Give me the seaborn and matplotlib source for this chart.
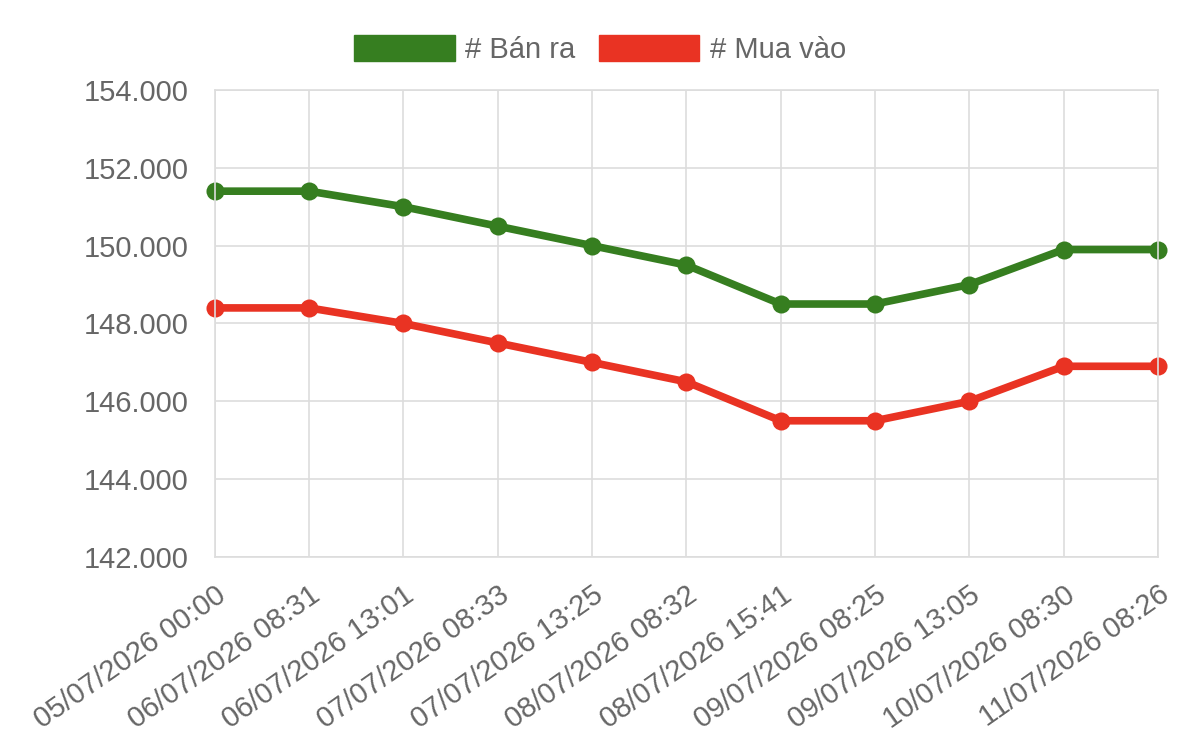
import matplotlib
matplotlib.use('Agg')
import matplotlib.pyplot as plt
import matplotlib.patches as mpatches
from matplotlib.ticker import FuncFormatter, MultipleLocator
import seaborn as sns
import pandas as pd

# Data
times = ['05/07/2026 00:00', '06/07/2026 08:31', '06/07/2026 13:01', '07/07/2026 08:33',
         '07/07/2026 13:25', '08/07/2026 08:32', '08/07/2026 15:41', '09/07/2026 08:25',
         '09/07/2026 13:05', '10/07/2026 08:30', '11/07/2026 08:26']
ban_ra = [151400, 151400, 151000, 150500, 150000, 149500, 148500, 148500, 149000, 149900, 149900]
mua_vao = [148400, 148400, 148000, 147500, 147000, 146500, 145500, 145500, 146000, 146900, 146900]
series_names = ['# Bán ra', '# Mua vào']
colors = ['#367E20', '#E93323']

sns.set_theme(style='white')
plt.rcParams['font.family'] = ['Liberation Sans', 'DejaVu Sans']

text_color = '#666666'
grid_color = '#DDDDDD'

df = pd.DataFrame({'idx': list(range(len(times))) * 2,
                   'value': ban_ra + mua_vao,
                   'series': [series_names[0]] * len(times) + [series_names[1]] * len(times)})

fig = plt.figure(figsize=(12, 7.55), dpi=100)
ax = fig.add_axes([0.179, 0.2623, 0.965 - 0.179, 0.8808 - 0.2623])

sns.lineplot(data=df, x='idx', y='value', hue='series', palette=colors,
             marker='o', markersize=13, markeredgewidth=0, linewidth=5.5,
             ax=ax, legend=False)
for ln in ax.get_lines():
    ln.set_clip_on(False)

ax.set_xlim(0, len(times) - 1)
ax.set_ylim(142000, 154000)
ax.yaxis.set_major_locator(MultipleLocator(2000))
ax.yaxis.set_major_formatter(FuncFormatter(lambda v, p: f'{v:,.0f}'.replace(',', '.')))
ax.set_xticks(range(len(times)))
ax.set_xticklabels(times, rotation=35, ha='right', va='top', rotation_mode='anchor')

ax.grid(True, color=grid_color, linewidth=1.2)
ax.set_axisbelow(True)
for s in ax.spines.values():
    s.set_color(grid_color)
    s.set_linewidth(1.2)
ax.tick_params(axis='both', length=13, width=1.2, color=grid_color,
               labelsize=21, labelcolor=text_color, pad=6)
ax.tick_params(axis='x', pad=4)
ax.set_xlabel('')
ax.set_ylabel('')

handles = [mpatches.Patch(facecolor=c, edgecolor=c, label=n) for c, n in zip(colors, series_names)]
fig.legend(handles=handles, loc='center', bbox_to_anchor=(0.5, 0.934), ncol=2,
           frameon=False, fontsize=21, labelcolor=text_color,
           handlelength=3.45, handleheight=1.0, handletextpad=0.35, columnspacing=0.8)

fig.savefig('out.png', dpi=100)
